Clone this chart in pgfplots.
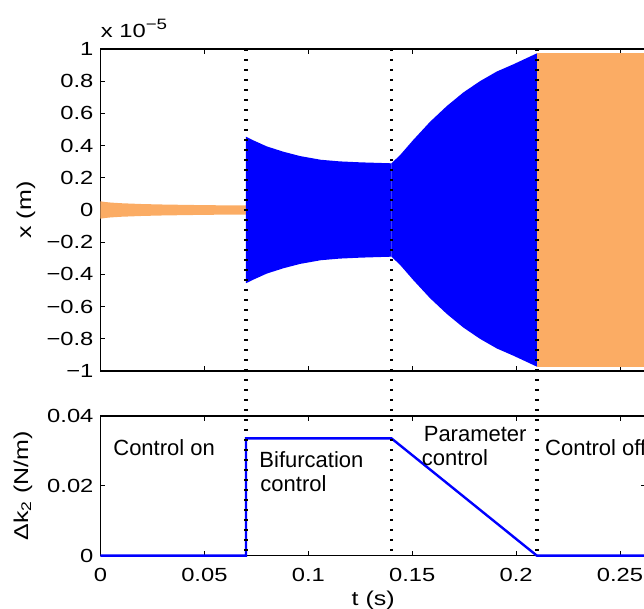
\documentclass[border=0pt]{standalone}
\usepackage{fontspec}
\setmainfont{Liberation Sans}
\usepackage{graphicx}
\usepackage{pgfplots}
\pgfplotsset{compat=1.18}

\definecolor{fillorange}{RGB}{251,172,100}
\definecolor{ctrlblue}{RGB}{0,0,255}
% axis text is set slightly wide
\newcommand{\wide}[1]{\scalebox{1.25}[1]{#1}}

\begin{document}
\begin{tikzpicture}
\pgfplotsset{
  panel/.style={
    scale only axis, width=272.75pt,
    xmin=0, xmax=0.2625,
    xtick={0,0.05,0.1,0.15,0.2,0.25},
    scaled ticks=false,
    tick align=inside, major tick length=2.5pt,
    tick label style={font=\fontsize{9.5}{10}\selectfont},
    every axis label/.append style={font=\fontsize{10}{11}\selectfont},
    axis line style={line width=0.6pt},
    every tick/.style={black, line width=0.5pt},
  },
}
\tikzset{
  dotline/.style={black, line width=1.9pt, dash pattern=on 1pt off 4pt},
  annot/.style={anchor=base west, inner sep=0pt, font=\fontsize{11}{13}\selectfont},
}

% ---------- displacement x(t) ----------
\begin{axis}[panel, at={(0,0)}, anchor=south west, height=161pt,
  clip=false,
  ymin=-1, ymax=1,
  ytick={-1,-0.8,-0.6,-0.4,-0.2,0,0.2,0.4,0.6,0.8,1},
  yticklabels={\wide{−1},\wide{−0.8},\wide{−0.6},\wide{−0.4},\wide{−0.2},\wide{0},
    \wide{0.2},\wide{0.4},\wide{0.6},\wide{0.8},\wide{1}},
  xticklabels={},
  ylabel={\wide{x (m)}},
  ylabel style={at={(axis description cs:-0.1366,0.5)}, anchor=center},
]
% free response before control (envelope of the oscillation)
\addplot[fill=fillorange, draw=none] coordinates {
  (0,0.054) (0.002,0.050) (0.005,0.046) (0.010,0.042) (0.020,0.037)
  (0.030,0.034) (0.040,0.032) (0.050,0.030) (0.060,0.029) (0.070,0.028)
  (0.070,-0.028) (0.060,-0.029) (0.050,-0.030) (0.040,-0.032) (0.030,-0.034)
  (0.020,-0.037) (0.010,-0.042) (0.005,-0.046) (0.002,-0.050) (0,-0.054)
} -- cycle;
% bifurcation control
\addplot[fill=ctrlblue, draw=none] coordinates {
  (0.070,0.455) (0.074,0.430) (0.080,0.395) (0.088,0.362) (0.096,0.335)
  (0.106,0.312) (0.115,0.302) (0.125,0.296) (0.140,0.290)
  (0.140,-0.290) (0.125,-0.296) (0.115,-0.302) (0.106,-0.312) (0.096,-0.335)
  (0.088,-0.362) (0.080,-0.395) (0.074,-0.430) (0.070,-0.455)
} -- cycle;
% parameter control
\addplot[fill=ctrlblue, draw=none] coordinates {
  (0.1400,0.290) (0.1441,0.340) (0.1505,0.435) (0.1586,0.548) (0.1666,0.645)
  (0.1746,0.730) (0.1826,0.800) (0.1907,0.860) (0.1987,0.905) (0.2100,0.973)
  (0.2100,-0.973) (0.1987,-0.905) (0.1907,-0.860) (0.1826,-0.800) (0.1746,-0.730)
  (0.1666,-0.645) (0.1586,-0.548) (0.1505,-0.435) (0.1441,-0.340) (0.1400,-0.290)
} -- cycle;
% control off
\addplot[fill=fillorange, draw=none] coordinates {
  (0.2100,0.973) (0.2625,0.973) (0.2625,-0.973) (0.2100,-0.973)
} -- cycle;
\coordinate (ta) at (axis cs:0.07,1);
\coordinate (tb) at (axis cs:0.14,1);
\coordinate (tc) at (axis cs:0.21,1);
\node[anchor=base west, inner sep=0pt, font=\fontsize{9.5}{10}\selectfont]
  at (rel axis cs:0,1) [yshift=5.5pt] {\wide{x 10}\raisebox{4pt}{\fontsize{7.5}{8}\selectfont\wide{−5}}};
\end{axis}

% ---------- stiffness change ----------
\begin{axis}[panel, at={(0,-92.35pt)}, anchor=south west, height=69.85pt,
  clip=false,
  ymin=0, ymax=0.04,
  ytick={0,0.02,0.04}, yticklabels={\wide{0},\wide{0.02},\wide{0.04}},
  xticklabels={\wide{0},\wide{0.05},\wide{0.1},\wide{0.15},\wide{0.2},\wide{0.25}},
  xticklabel style={yshift=-2.5pt},
  xlabel={\wide{t (s)}},
  xlabel style={at={(axis description cs:0.5,-0.317)}, anchor=center},
  ylabel={\wide{Δk\textsubscript{2} (N/m)}},
  ylabel style={at={(axis description cs:-0.142,0.5)}, anchor=center},
]
\addplot[ctrlblue, line width=1.2pt] coordinates {
  (0,0) (0.07,0) (0.07,0.0336) (0.14,0.0336) (0.21,0) (0.2625,0)
};
\node[annot] at (axis cs:0.006,0.0288) {Control on};
\node[annot] at (axis cs:0.0763,0.0252) {Bifurcation};
\node[annot] at (axis cs:0.0768,0.0184) {control};
\node[annot] at (axis cs:0.1554,0.0326) {Parameter};
\node[annot] at (axis cs:0.1545,0.0258) {control};
\node[annot] at (axis cs:0.2138,0.0288) {Control off};
\coordinate (ba) at (axis cs:0.07,0);
\coordinate (bb) at (axis cs:0.14,0);
\coordinate (bc) at (axis cs:0.21,0);
\end{axis}

% phase boundaries running through both panels
\draw[dotline] (ta) -- (ba);
\draw[dotline] (tb) -- (bb);
\draw[dotline] (tc) -- (bc);

\pgfresetboundingbox
\useasboundingbox (-50.25pt,-119pt) rectangle (271.75pt,185.5pt);
\end{tikzpicture}
\end{document}
